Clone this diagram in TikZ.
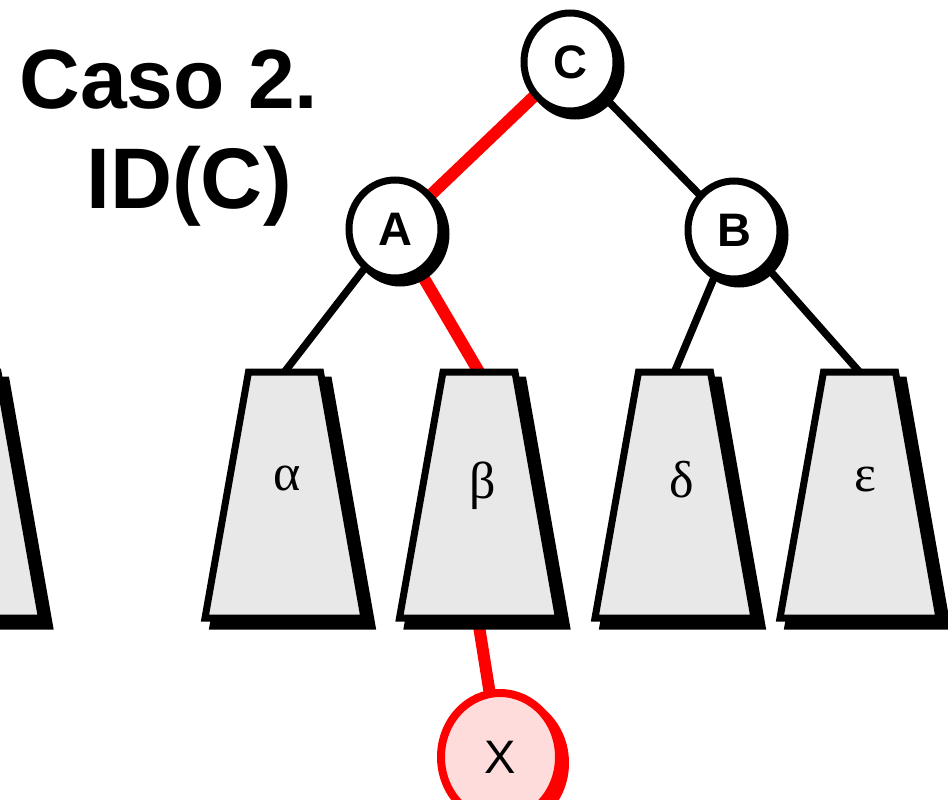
\documentclass[tikz,border=0pt]{standalone}
\usepackage{fontspec}
\setmainfont{Liberation Sans}
\newfontfamily\grk{Liberation Serif}
\usetikzlibrary{backgrounds,shapes.geometric}
\definecolor{treegray}{HTML}{E8E8E8}
\definecolor{xpink}{HTML}{FFDCDC}
\tikzset{
  vertex/.style={ellipse, draw=black, fill=white, line width=7pt, minimum width=92pt, minimum height=98pt, inner sep=0pt, font=\fontsize{47}{47}\selectfont\bfseries},
  xvertex/.style={ellipse, draw=red, fill=xpink, line width=8pt, minimum width=118pt, minimum height=128pt, inner sep=0pt, font=\fontsize{47}{47}\selectfont},
  vshadow/.style={fill=black, draw=black, line width=7pt},
  xshadow/.style={fill=red, draw=red, line width=8pt},
  blackedge/.style={line width=7.5pt, black},
  rededge/.style={line width=12pt, red},
  treebox/.style={fill=treegray, draw=black, line width=7pt, line join=miter},
  treeshadow/.style={fill=black, draw=black, line width=7pt, line join=miter},
  greeklabel/.style={font=\grk\fontsize{52}{52}\selectfont, anchor=base, inner sep=0pt},
  titletext/.style={font=\fontsize{84}{84}\selectfont\bfseries, anchor=base, inner sep=0pt}
}
\begin{document}
\begin{tikzpicture}[x=1pt,y=-1pt]
\useasboundingbox (0,0) rectangle (948,800);
\clip (0,0) rectangle (948,800);

% title
\node[titletext] (t1) at (169,108) {Caso 2.};
\node[titletext, font=\fontsize{86}{86}\selectfont\bfseries] (t2) at (189,208) {ID(C)};

% vertices
\node[vertex] (C) at (570,62) {C};
\node[vertex] (A) at (395,229) {A};
\node[vertex] (B) at (734,230) {B};
\node[xvertex] (X) at (500,757) {X};

% subtree anchor points (top and bottom centres)
\coordinate (tl) at (-38,372);
\coordinate (ta) at (284.5,372);
\coordinate (tb) at (479,372);
\coordinate (bb) at (478,620);
\coordinate (td) at (674.5,372);
\coordinate (te) at (859.5,372);

% subtrees
\foreach \cx in {-38, 284.5, 479, 674.5, 859.5}{
  \path[treeshadow, shift={(8,8)}] (\cx-36,372) -- (\cx+36,372) -- (\cx+79.5,618) -- (\cx-79.5,618) -- cycle;
  \path[treebox] (\cx-36,372) -- (\cx+36,372) -- (\cx+79.5,618) -- (\cx-79.5,618) -- cycle;
}
\node[greeklabel] (la) at (287,490) {α};
\node[greeklabel] (lb) at (483,498) {β};
\node[greeklabel] (ld) at (682,497) {δ};
\node[greeklabel] (le) at (865,491) {ε};

\begin{pgfonlayer}{background}
  \draw[rededge] (C.center) -- (A.center);
  \draw[blackedge] (C.center) -- (B.center);
  \draw[blackedge] (A.center) -- (ta);
  \draw[rededge] (A.center) -- (tb);
  \draw[blackedge] (B.center) -- (td);
  \draw[blackedge] (B.center) -- (te);
  \draw[rededge] (bb) -- (X.center);
  \path[vshadow] ([shift={(5,5)}]C.center) ellipse [x radius=46pt, y radius=49pt];
  \path[vshadow] ([shift={(5,5)}]A.center) ellipse [x radius=46pt, y radius=49pt];
  \path[vshadow] ([shift={(5,5)}]B.center) ellipse [x radius=46pt, y radius=49pt];
  \path[xshadow] ([shift={(6,6)}]X.center) ellipse [x radius=59pt, y radius=64pt];
\end{pgfonlayer}
\end{tikzpicture}
\end{document}
